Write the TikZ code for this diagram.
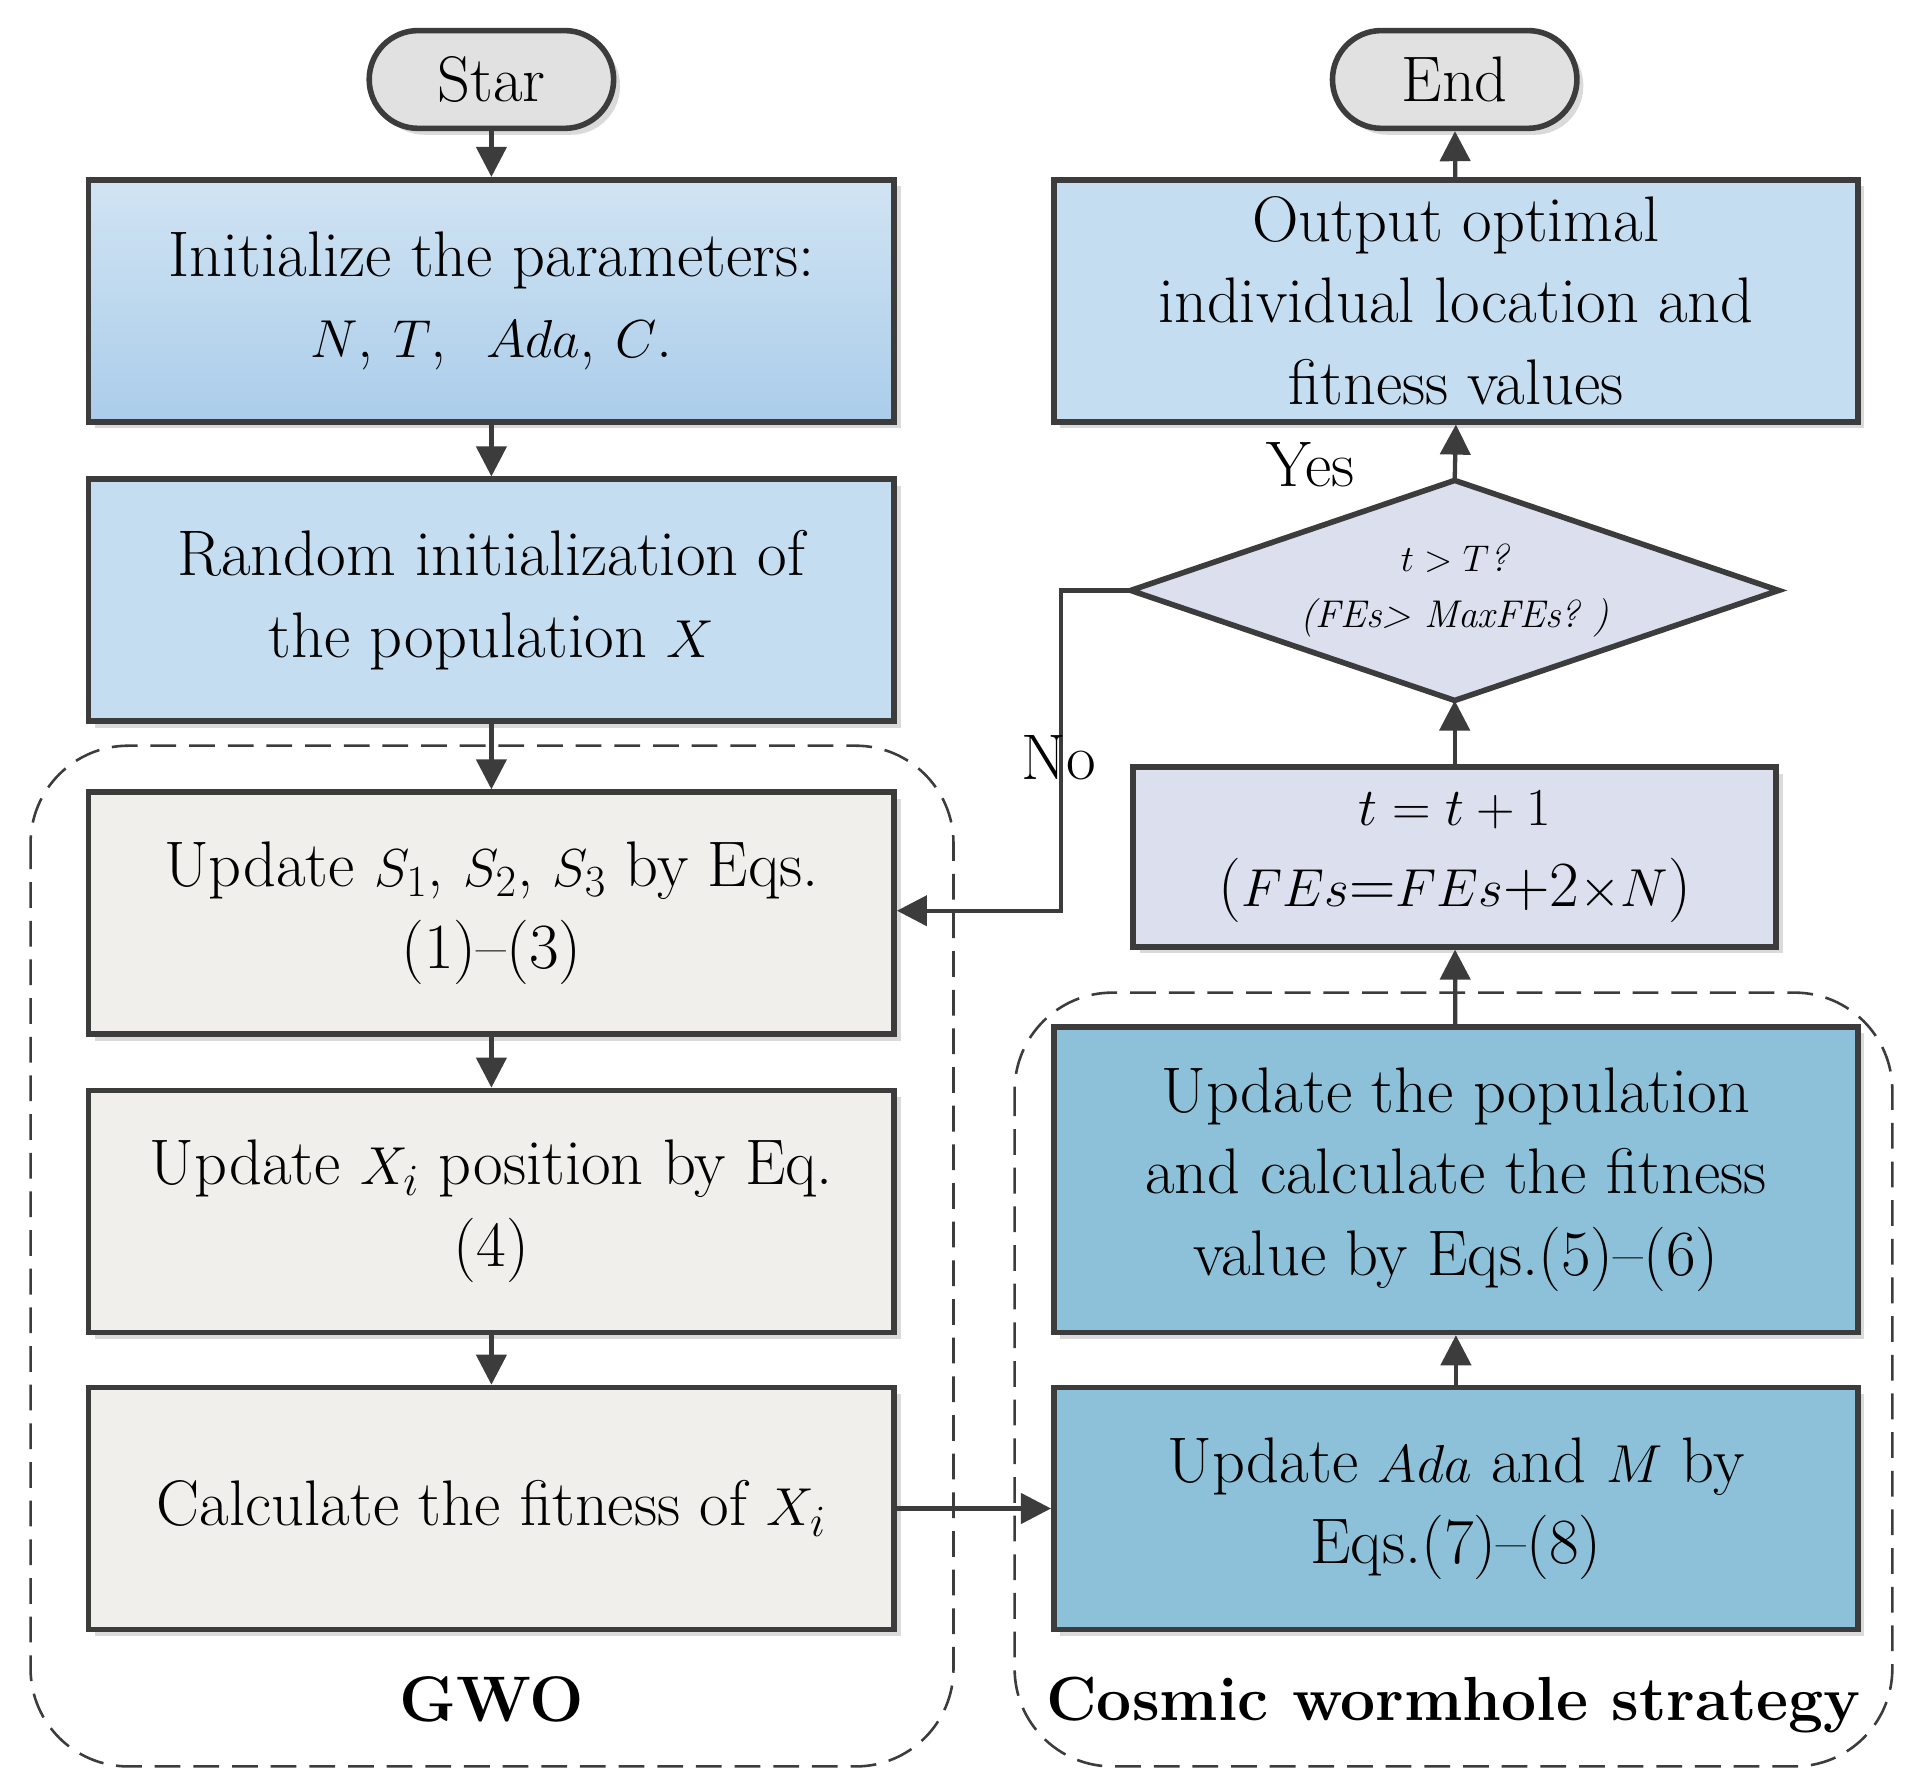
\documentclass[tikz,border=0pt]{standalone}
\usetikzlibrary{shapes.geometric,arrows.meta,shadows}
\definecolor{ln}{HTML}{3C3C3C}
\definecolor{lblue}{HTML}{C5DDF0}
\definecolor{gblue}{HTML}{ABCDEA}
\definecolor{lgray}{HTML}{F0EFEB}
\definecolor{lpurp}{HTML}{DCE0EE}
\definecolor{mblue}{HTML}{8CC1D9}
\definecolor{sgray}{HTML}{DADADA}
\begin{document}
\begin{tikzpicture}[x=0.02cm,y=-0.02cm,
  box/.style={draw=ln,line width=2.6pt,align=center,inner sep=2pt,
    font=\fontsize{30}{38}\selectfont,drop shadow={shadow xshift=3pt,shadow yshift=-3pt,fill=sgray,opacity=1}},
  term/.style={draw=ln,line width=2.6pt,rounded corners=0.8cm,fill=sgray!80,minimum width=4cm,minimum height=1.6cm,font=\fontsize{30}{34}\selectfont,
    drop shadow={shadow xshift=3pt,shadow yshift=-3pt,fill=sgray,opacity=1}},
  arr/.style={draw=ln,line width=2pt,-{Triangle[length=14pt,width=14pt]}},
  grp/.style={draw=ln,line width=1.2pt,dash pattern=on 12pt off 6pt,rounded corners=1.6cm},
  lab/.style={font=\fontsize{30}{34}\selectfont}]
\useasboundingbox (0,0) rectangle (1560,1465);
\draw[grp] (25,610) rectangle (780,1445);
\draw[grp] (830,812) rectangle (1548,1445);
\node[lab,font=\fontsize{30}{34}\selectfont\bfseries] (gwo) at (402,1390) {GWO};
\node[lab,font=\fontsize{29}{34}\selectfont\bfseries] (cws) at (1189,1395) {Cosmic wormhole strategy};

\node[term] (star) at (402,65) {Star};
\node[term] (end) at (1190,65) {End};
\node[box,top color=lblue!80,bottom color=gblue,minimum width=13.18cm,minimum height=3.96cm] (b1) at (402,246) {Initialize the parameters:\\ $N$, $T$,\ \ $Ada$, $C$.};
\node[box,fill=lblue,minimum width=13.18cm,minimum height=3.96cm] (b2) at (402,491) {Random initialization of\\ the population $X$};
\node[box,fill=lgray,minimum width=13.18cm,minimum height=3.96cm] (b3) at (402,747) {Update $S_1$, $S_2$, $S_3$ by Eqs.\\ (1)--(3)};
\node[box,fill=lgray,minimum width=13.18cm,minimum height=3.96cm] (b4) at (402,991) {Update $X_i$ position by Eq.\\ (4)};
\node[box,fill=lgray,minimum width=13.18cm,minimum height=3.96cm] (b5) at (402,1234) {Calculate the fitness of $X_i$};

\node[box,fill=lblue,minimum width=13.16cm,minimum height=3.96cm] (out) at (1191,246) {Output optimal\\ individual location and\\ fitness values};
\coordinate (dN) at (1190,393);
\coordinate (dS) at (1190,573);
\coordinate (dW) at (925,483);
\coordinate (dE) at (1455,483);
\draw[draw=ln,line width=2.6pt,fill=lpurp] (dN) -- (dE) -- (dS) -- (dW) -- cycle;
\node[align=center,font=\fontsize{18}{26}\selectfont\itshape] (dia) at (1190,483) {$t>T$?\\ (FEs> MaxFEs?\ )};
\node[box,fill=lpurp,minimum width=10.52cm,minimum height=2.94cm] (tt) at (1190,701) {$t=t+1$\\ ($FEs$=$FEs$+2$\times N$)};
\node[box,fill=mblue,minimum width=13.16cm,minimum height=5cm] (up) at (1191,965) {Update the population\\ and calculate the fitness\\ value by Eqs.(5)--(6)};
\node[box,fill=mblue,minimum width=13.16cm,minimum height=3.96cm] (ada) at (1191,1234) {Update $Ada$ and $M$ by\\ Eqs.(7)--(8)};

\draw[arr] (star) -- (b1);
\draw[arr] (b1) -- (b2);
\draw[arr] (b2) -- (b3);
\draw[arr] (b3) -- (b4);
\draw[arr] (b4) -- (b5);
\draw[arr] (b5) -- (ada);
\draw[arr] (ada) -- (up);
\draw[arr] (up) -- (tt);
\draw[arr] (tt.north) -- (dS);
\draw[arr] (dN) -- (out.south);
\draw[arr] (out) -- (end);
\coordinate (n1) at (868,483);
\coordinate (n2) at (868,745);
\draw[arr] (dW) -- (n1) -- (n2) -- (b3.east |- n2);
\node[lab] (no) at (866,620) {No};
\node[lab] (yes) at (1072,380) {Yes};
\end{tikzpicture}
\end{document}
